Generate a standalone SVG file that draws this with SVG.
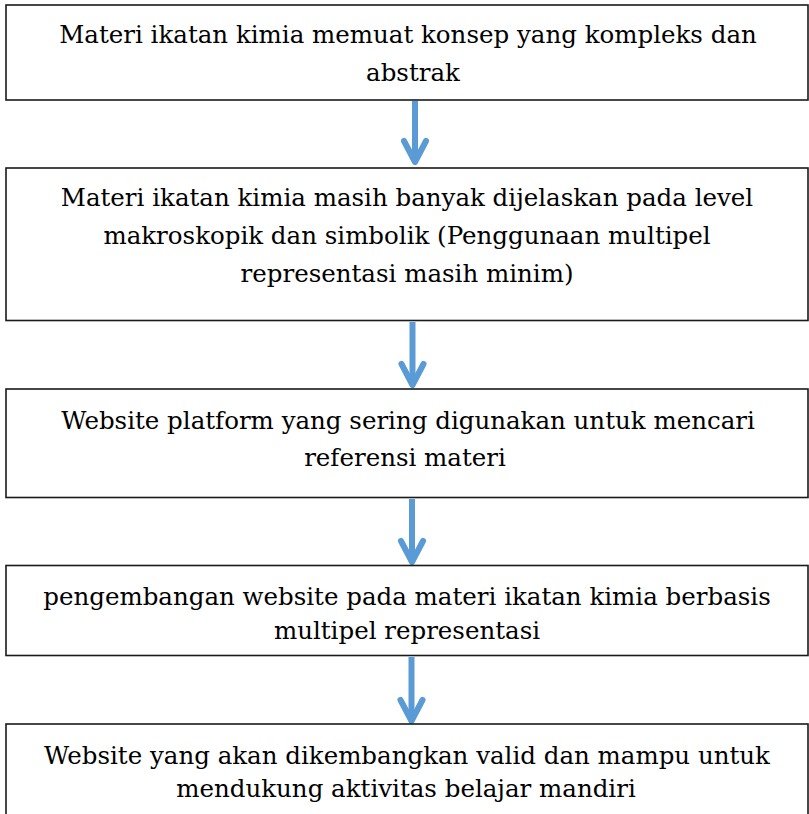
<svg xmlns="http://www.w3.org/2000/svg" width="809" height="814" viewBox="0 0 809 814">
<style>
.box{fill:#ffffff;stroke:#1a1a1a;stroke-width:1.6}
.t{font-family:"DejaVu Serif","Liberation Serif",serif;font-size:24.5px;fill:#000;text-anchor:middle}
.conn{stroke:#5b9bd5;stroke-width:6;fill:none}
</style>
<defs>
<marker id="ah" markerUnits="userSpaceOnUse" markerWidth="40" markerHeight="40" viewBox="-30 -20 40 40" refX="0" refY="0" orient="auto" overflow="visible">
<path d="M-21,-11 L0,0 L-21,11" fill="none" stroke="#5b9bd5" stroke-width="6" stroke-linecap="round" stroke-linejoin="round"/>
</marker>
</defs>
<rect width="809" height="814" fill="#ffffff"/>
<g id="connectors">
<line class="conn" x1="415" y1="101" x2="415" y2="162" marker-end="url(#ah)"/>
<line class="conn" x1="412.5" y1="322" x2="412.5" y2="385" marker-end="url(#ah)"/>
<line class="conn" x1="412" y1="499" x2="412" y2="562" marker-end="url(#ah)"/>
<line class="conn" x1="411.5" y1="657" x2="411.5" y2="721" marker-end="url(#ah)"/>
</g>
<g id="node1">
<rect class="box" x="6" y="5" width="802" height="95"/>
<text class="t" x="408" y="43">Materi ikatan kimia memuat konsep yang kompleks dan</text>
<text class="t" x="413" y="81">abstrak</text>
</g>
<g id="node2">
<rect class="box" x="6" y="168" width="802" height="152.5"/>
<text class="t" x="407" y="206">Materi ikatan kimia masih banyak dijelaskan pada level</text>
<text class="t" x="407" y="244">makroskopik dan simbolik (Penggunaan multipel</text>
<text class="t" x="407" y="282">representasi masih minim)</text>
</g>
<g id="node3">
<rect class="box" x="6" y="389" width="802" height="108.5"/>
<text class="t" x="408" y="429">Website platform yang sering digunakan untuk mencari</text>
<text class="t" x="405" y="466">referensi materi</text>
</g>
<g id="node4">
<rect class="box" x="6" y="565.5" width="802" height="90"/>
<text class="t" x="407" y="605">pengembangan website pada materi ikatan kimia berbasis</text>
<text class="t" x="407" y="639">multipel representasi</text>
</g>
<g id="node5">
<rect class="box" x="6" y="724" width="802" height="100"/>
<text class="t" x="407" y="764">Website yang akan dikembangkan valid dan mampu untuk</text>
<text class="t" x="406" y="797">mendukung aktivitas belajar mandiri</text>
</g>
</svg>
